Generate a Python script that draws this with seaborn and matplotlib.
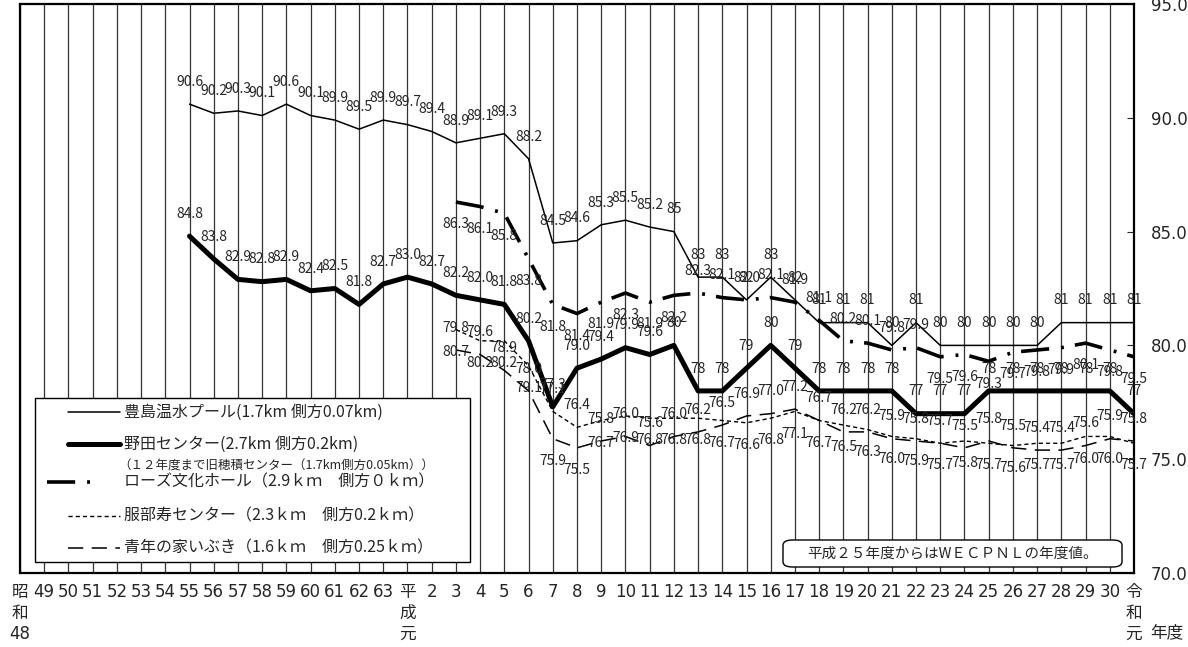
import pandas as pd
import matplotlib
matplotlib.use("Agg")
import matplotlib.pyplot as plt
from matplotlib.patches import Rectangle, FancyBboxPatch
from matplotlib.lines import Line2D
import seaborn as sns

# -----------------------------
# Data : 年度別 騒音値 (WECPNL)
# -----------------------------
years = ["昭\n和\n48", "49", "50", "51", "52", "53", "54", "55", "56", "57",
         "58", "59", "60", "61", "62", "63",
         "平\n成\n元", "2", "3", "4", "5", "6", "7", "8", "9", "10",
         "11", "12", "13", "14", "15", "16", "17", "18", "19", "20",
         "21", "22", "23", "24", "25", "26", "27", "28", "29", "30",
         "令\n和\n元"]

# 豊島温水プール (昭和55 -)
toyoshima = [None] * 7 + [
    90.6, 90.2, 90.3, 90.1, 90.6, 90.1, 89.9, 89.5, 89.9,
    89.7, 89.4, 88.9, 89.1, 89.3, 88.2, 84.5, 84.6, 85.3, 85.5,
    85.2, 85, 83, 83, 82, 83, 82, 81, 81, 81,
    80, 81, 80, 80, 80, 80, 80, 81, 81, 81,
    81]

# 野田センター (昭和55 -)
noda = [None] * 7 + [
    84.8, 83.8, 82.9, 82.8, 82.9, 82.4, 82.5, 81.8, 82.7,
    83.0, 82.7, 82.2, 82.0, 81.8, 80.2, 77.3, 79.0, 79.4, 79.9,
    79.6, 80, 78, 78, 79, 80, 79, 78, 78, 78,
    78, 77, 77, 77, 78, 78, 78, 78, 78, 78,
    77]

# ローズ文化ホール (平成3 -)
rose = [None] * 18 + [
    86.3, 86.1, 85.8, 83.8, 81.8, 81.4, 81.9, 82.3,
    81.9, 82.2, 82.3, 82.1, 82.0, 82.1, 81.9, 81.1, 80.2, 80.1,
    79.8, 79.9, 79.5, 79.6, 79.3, 79.7, 79.8, 79.9, 80.1, 79.8,
    79.5]

# 服部寿センター (平成3 -)
hattori = [None] * 18 + [
    80.7, 80.2, 80.2, 79.1, 77.1, 76.4, 76.7, 76.9,
    76.8, 76.8, 76.8, 76.7, 76.6, 76.8, 77.1, 76.7, 76.5, 76.3,
    76.0, 75.9, 75.7, 75.8, 75.7, 75.6, 75.7, 75.7, 76.0, 76.0,
    75.7]

# 青年の家いぶき (平成3 -)
ibuki = [None] * 18 + [
    79.8, 79.6, 78.9, 78.0, 75.9, 75.5, 75.8, 76.0,
    75.6, 76.0, 76.2, 76.5, 76.9, 77.0, 77.2, 76.7, 76.2, 76.2,
    75.9, 75.8, 75.7, 75.5, 75.8, 75.5, 75.4, 75.4, 75.6, 75.9,
    75.8]

series = {
    "豊島温水プール": toyoshima,
    "野田センター": noda,
    "ローズ文化ホール": rose,
    "服部寿センター": hattori,
    "青年の家いぶき": ibuki,
}

# -----------------------------
# Styles
# -----------------------------
widths = {"豊島温水プール": 1.1, "野田センター": 3.6, "ローズ文化ホール": 2.6,
          "服部寿センター": 1.0, "青年の家いぶき": 1.1}
dash_map = {"豊島温水プール": "", "野田センター": "",
            "ローズ文化ホール": (7.8, 3.3, 0.8, 3.1),
            "服部寿センター": (3, 2.2), "青年の家いぶき": (10, 5.5)}

# label side: +1 above / -1 below ; flips at some years (index)
label_side = {"豊島温水プール": 1, "野田センター": 1, "ローズ文化ホール": -1,
              "服部寿センター": -1, "青年の家いぶき": 1}
label_flip = {"ローズ文化ホール": range(28, 38),
              "服部寿センター": [22, 23], "青年の家いぶき": [22, 23]}
int_from = 27  # 平成12 以降は整数表示 (豊島・野田)

# -----------------------------
# Long-form table
# -----------------------------
rows = []
for name, vals in series.items():
    for i, v in enumerate(vals):
        if v is not None:
            rows.append({"series": name, "idx": i, "value": v})
df = pd.DataFrame(rows)

sns.set_style("ticks")
plt.rcParams["font.family"] = ["Noto Sans CJK JP", "DejaVu Sans"]
wide = ["DejaVu Sans", "Noto Sans CJK JP"]

W, H = 1188, 647
fig = plt.figure(figsize=(W / 100, H / 100), dpi=100)
ax = fig.add_axes([20 / W, 1 - 573 / H, 1114 / W, 569 / H])

sns.lineplot(data=df, x="idx", y="value", hue="series", style="series",
             size="series", palette={n: "black" for n in series},
             dashes=dash_map, sizes=widths, estimator=None, sort=False,
             legend=False, ax=ax)

# data labels
for name, vals in series.items():
    for i, v in enumerate(vals):
        if v is None:
            continue
        side = label_side[name]
        if i in label_flip.get(name, []):
            side = -side
        if name in ("豊島温水プール", "野田センター") and i >= int_from:
            txt = f"{v:.0f}"
        else:
            txt = f"{v:.1f}"
        ax.annotate(txt, (i, v), xytext=(0, 16 * side), textcoords="offset points",
                    ha="center", va="center", fontsize=10, zorder=6)

# axes
ax.set_xlim(0, 46)
ax.set_ylim(70, 95)
ax.set_xticks(range(len(years)))
ax.set_xticklabels(years, fontsize=12, linespacing=1.22, family=wide)
ax.tick_params(axis="x", length=0, pad=7)
ax.set_xlabel("")
ax.set_ylabel("")
ax.grid(axis="x", color="#333333", lw=0.9)
ax.grid(axis="y", visible=False)
ax.set_axisbelow(True)

ax.yaxis.tick_right()
ax.set_yticks([70, 75, 80, 85, 90, 95])
ax.set_yticklabels([f"{t:.1f}" for t in [70, 75, 80, 85, 90, 95]], family=wide)
ax.tick_params(axis="y", direction="in", length=5, pad=12, labelsize=12)
for s in ax.spines.values():
    s.set_visible(True)
    s.set_color("black")
    s.set_linewidth(1.6)

fig.text(1167 / W, 1 - 633 / H, "年度", fontsize=12, ha="center", va="center")


# -----------------------------
# Legend (drawn by hand)
# -----------------------------
def px(x, y):
    return x / W, 1 - y / H


x0, y0 = px(35, 562)
x1, y1 = px(470, 398)
fig.add_artist(Rectangle((x0, y0), x1 - x0, y1 - y0, transform=fig.transFigure,
                         facecolor="white", edgecolor="black", lw=1.0, zorder=5))

entries = [
    ("豊島温水プール", 412, 68, 120, "豊島温水プール(1.7km 側方0.07km)"),
    ("野田センター", 444, 68, 120, "野田センター(2.7km 側方0.2km)"),
    ("ローズ文化ホール", 482, 47, 100, "ローズ文化ホール（2.9ｋｍ　側方０ｋｍ）"),
    ("服部寿センター", 516, 68, 120, "服部寿センター（2.3ｋｍ　側方0.2ｋｍ）"),
    ("青年の家いぶき", 548, 68, 120, "青年の家いぶき（1.6ｋｍ　側方0.25ｋｍ）"),
]
for name, yy, xs, xe, label in entries:
    xa, ya = px(xs, yy)
    xb, _ = px(xe, yy)
    ln = Line2D([xa, xb], [ya, ya], transform=fig.transFigure, color="black",
                lw=widths[name], zorder=6)
    if dash_map[name]:
        ln.set_dashes(dash_map[name])
    fig.add_artist(ln)
    fig.text(124 / W, ya, label, fontsize=11.5, ha="left", va="center", zorder=6)

fig.text(118 / W, 1 - 466 / H, "（１２年度まで旧穂積センター（1.7km側方0.05km））",
         fontsize=9, ha="left", va="center", zorder=6)

# note box
bx0, by0 = px(783, 567)
bx1, by1 = px(1122, 540)
fig.add_artist(FancyBboxPatch((bx0, by0), bx1 - bx0, by1 - by0,
                              boxstyle="round,pad=0,rounding_size=0.008",
                              transform=fig.transFigure, facecolor="white",
                              edgecolor="black", lw=1.0, zorder=5))
fig.text((bx0 + bx1) / 2, (by0 + by1) / 2, "平成２５年度からはWＥＣＰＮＬの年度値。",
         fontsize=10.5, ha="center", va="center", zorder=6)

fig.savefig("out.png", dpi=100)
